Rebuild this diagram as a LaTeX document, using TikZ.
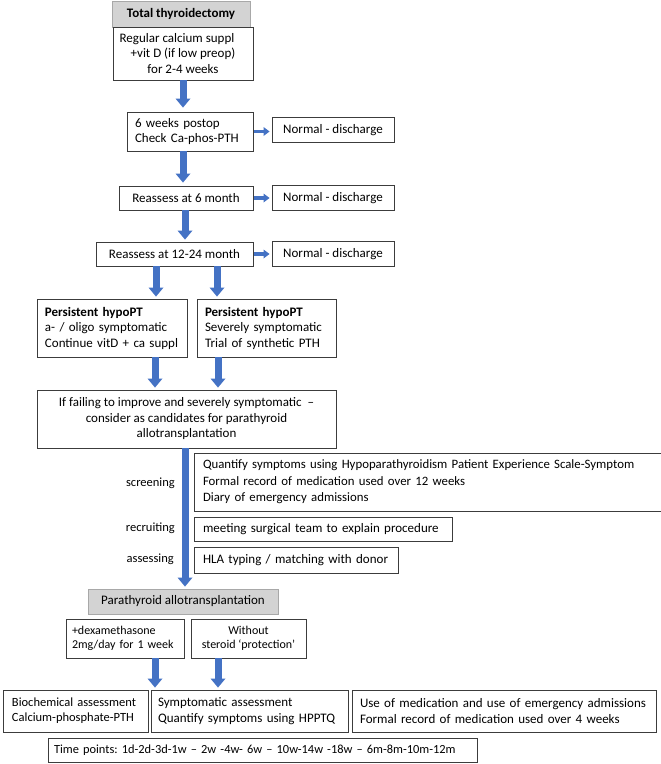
\documentclass[tikz,border=0pt]{standalone}
\usepackage{fontspec}
\setmainfont{Carlito}
\usetikzlibrary{arrows.meta}
\definecolor{arrblue}{HTML}{4472C4}
\definecolor{bord}{HTML}{3C3C3C}
\definecolor{titlegray}{HTML}{D3D3D3}
\definecolor{graybord}{HTML}{A8A8A8}
\newcommand\fsA{\fontsize{13}{15.5}\selectfont}
\newcommand\fsB{\fontsize{12.5}{15}\selectfont}
\newcommand\fsC{\fontsize{12}{14}\selectfont}
\frenchspacing
\tikzset{
  bx/.style={draw=bord, line width=0.9pt, fill=white, inner sep=0pt, font=\fsA},
  gbx/.style={bx, fill=titlegray, draw=graybord},
  cbx/.style={bx, align=center},
  lbx/.style={bx, align=left},
  blk/.style={draw=arrblue, line width=7pt, -{Triangle[width=15pt,length=9pt,line width=0pt]}},
  sarr/.style={draw=arrblue, line width=3.5pt, -{Triangle[width=9pt,length=6pt,line width=0pt]}},
  lab/.style={anchor=east, inner sep=0pt, font=\fsB}
}
\begin{document}
\begin{tikzpicture}[x=1pt,y=-1pt]
\useasboundingbox (0,0) rectangle (661,764);
% top column
\node[gbx, font=\fsA\bfseries, minimum width=138, minimum height=26] (tt) at (181,14) {Total thyroidectomy};
\node[cbx, minimum width=140, minimum height=53] (reg) at (183,53.5) {Regular calcium suppl\hspace*{12pt}\\+vit D (if low preop)\\for 2-4 weeks};
\node[lbx, text width=110, minimum height=39, inner xsep=8pt] (wk6) at (190,131.5) {6 weeks postop\\Check Ca-phos-PTH};
\node[cbx, minimum width=122, minimum height=25] (n1) at (333,130) {Normal - discharge};
\node[cbx, minimum width=134, minimum height=24] (r6) at (186,198) {Reassess at 6 month};
\node[cbx, minimum width=122, minimum height=25] (n2) at (333,198) {Normal - discharge};
\node[cbx, minimum width=157, minimum height=24] (r12) at (174.5,254) {Reassess at 12-24 month};
\node[cbx, minimum width=122, minimum height=25] (n3) at (333,254) {Normal - discharge};
% persistent
\node[lbx, text width=134, minimum height=58, inner xsep=8pt] (pl) at (112,328) {\textbf{Persistent hypoPT}\\a- / oligo symptomatic\\Continue vitD + ca suppl};
\node[lbx, text width=123, minimum height=58, inner xsep=8pt] (pr) at (266.5,328) {\textbf{Persistent hypoPT}\\Severely symptomatic\\Trial of synthetic PTH};
\node[cbx, minimum width=299, minimum height=58] (big) at (186.5,419) {If failing to improve and severely symptomatic\ \ –\\consider as candidates for parathyroid\\allotransplantation};
% screening etc
\node[lbx, text width=452, minimum height=58, inner xsep=9pt, font=\fontsize{12.8}{16.5}\selectfont] (scr) at (429,482) {Quantify symptoms using Hypoparathyroidism Patient Experience Scale-Symptom\\Formal record of medication used over 12 weeks\\Diary of emergency admissions};
\node[lbx, text width=240, minimum height=24, inner xsep=9pt] (rec) at (323,529) {meeting surgical team to explain procedure};
\node[lbx, text width=186, minimum height=26, inner xsep=9pt] (ass) at (296,560) {HLA typing / matching with donor};
\node[lab] (lscr) at (175,483) {screening};
\node[lab] (lrec) at (175,528) {recruiting};
\node[lab] (lass) at (174,559) {assessing};
% transplantation
\node[gbx, minimum width=190, minimum height=25] (para) at (183,601.5) {Parathyroid allotransplantation};
\node[lbx, text width=106, minimum height=39, inner xsep=6pt, font=\fsC] (dex) at (125,638.5) {+dexamethasone\\2mg/day for 1 week};
\node[cbx, minimum width=115, minimum height=39, font=\fsC] (wo) at (248.5,638.5) {Without\\steroid ‘protection’};
\node[lbx, text width=127, minimum height=42, inner xsep=9pt, font=\fsB] (bio) at (75.5,711) {Biochemical assessment\\Calcium-phosphate-PTH};
\node[lbx, text width=183, minimum height=42, inner xsep=7pt] (sym) at (249.5,711) {Symptomatic assessment\\Quantify symptoms using HPPTQ};
\node[lbx, text width=288, minimum height=42, inner xsep=8pt] (med) at (504,711) {Use of medication and use of emergency admissions\\Formal record of medication used over 4 weeks};
\node[lbx, text width=417, minimum height=24, inner xsep=6pt, font=\fontsize{12.4}{14}\selectfont] (tp) at (262.5,750) {Time points: 1d-2d-3d-1w – 2w -4w- 6w – 10w-14w -18w – 6m-8m-10m-12m};
% arrow x positions
\coordinate (xa) at (183,0);
\coordinate (xb) at (185,0);
\coordinate (xl) at (156,0);
\coordinate (xr) at (217,0);
\coordinate (xl2) at (155,0);
\coordinate (xr2) at (218,0);
% connectors
\draw[blk, shorten >=4pt] (reg.south -| xa) -- (wk6.north -| xa);
\draw[blk, shorten >=3pt] (wk6.south -| xa) -- (r6.north -| xa);
\draw[blk, shorten >=2pt] (r6.south -| xb) -- (r12.north -| xb);
\draw[sarr, shorten <=1pt, shorten >=2pt] (wk6.east) -- (wk6.east -| n1.west);
\draw[sarr, shorten <=1pt, shorten >=2pt] (r6.east) -- (r6.east -| n2.west);
\draw[sarr, shorten <=1pt, shorten >=2pt] (r12.east) -- (r12.east -| n3.west);
\draw[blk, shorten >=2pt] (r12.south -| xl) -- (pl.north -| xl);
\draw[blk, shorten >=2pt] (r12.south -| xr) -- (pr.north -| xr);
\draw[blk, shorten >=2pt] (pl.south -| xl2) -- (big.north -| xl2);
\draw[blk, shorten >=2pt] (pr.south -| xr2) -- (big.north -| xr2);
\draw[blk, shorten >=2pt] (big.south -| xb) -- (para.north -| xb);
\draw[blk, shorten >=2pt] (dex.south -| xl2) -- (sym.north -| xl2);
\draw[blk, shorten >=2pt] (wo.south -| xr2) -- (sym.north -| xr2);
\end{tikzpicture}
\end{document}
